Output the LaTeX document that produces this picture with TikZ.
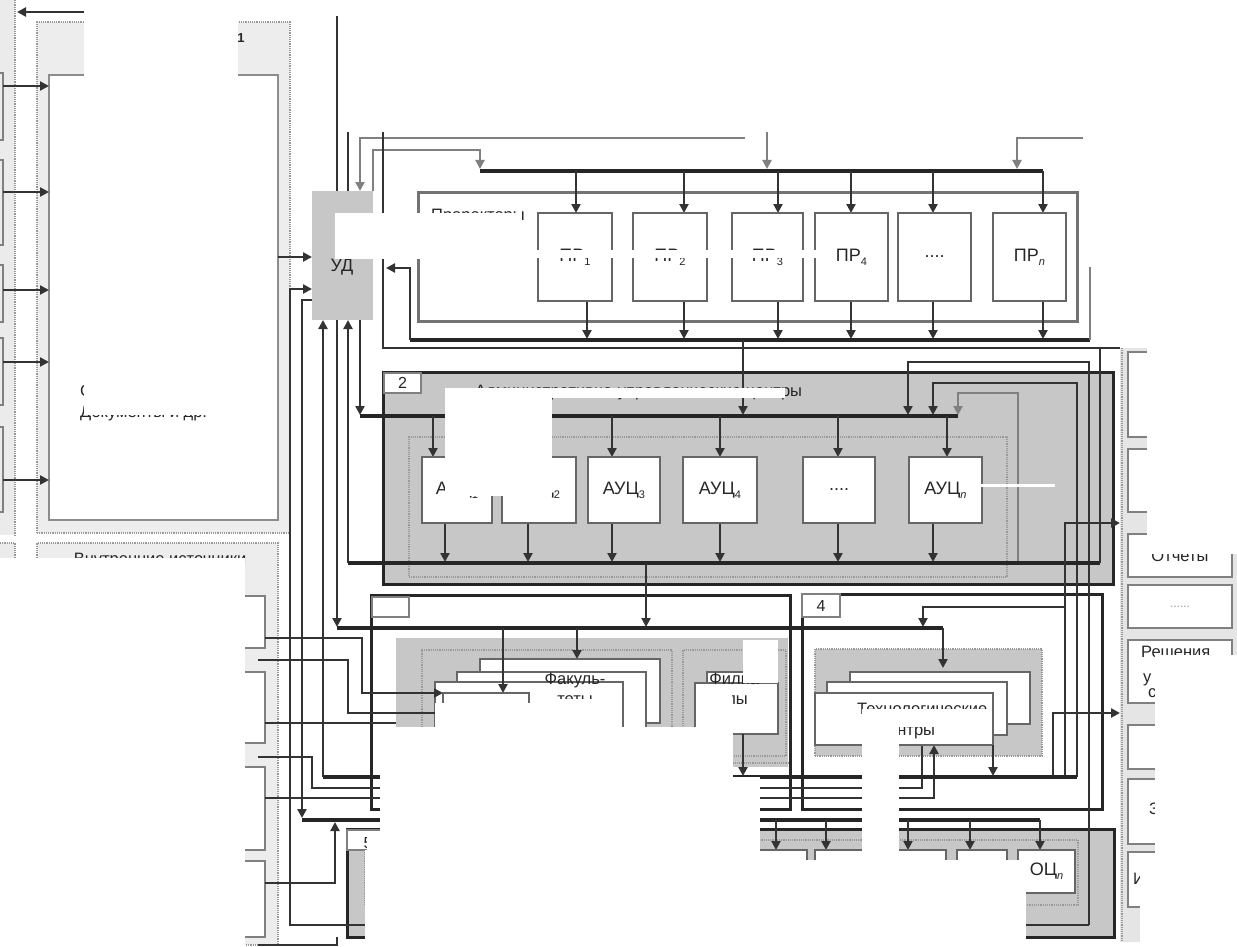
\documentclass[tikz,border=0pt]{standalone}
\usepackage{fontspec}
\setmainfont{Liberation Sans}
\usetikzlibrary{arrows.meta}
\newcommand\mybox[7]{\node[#6, anchor=north west, minimum width={(#4)-(#2)}, minimum height={(#5)-(#3)}, inner sep=0pt, outer sep=0pt] (#1) at (#2,#3) {#7};}
\newcommand\sbs[1]{\raisebox{-4pt}{\fontsize{11}{11}\selectfont #1}}
\begin{document}
\begin{tikzpicture}[x=1pt,y=-1pt,
  bus/.style={line width=3.5pt, draw=black!85},
  ln/.style={line width=2.4pt, draw=black!80},
  gln/.style={line width=2.2pt, draw=black!50},
  arr/.style={-{Triangle[length=9pt,width=9pt]}},
  box/.style={draw=black!60, line width=2.6pt, fill=white},
  pbox/.style={draw=black!50, line width=2.2pt, fill=white},
  frame/.style={draw=black!85, line width=3pt},
  dotb/.style={draw=black!40, line width=2pt, dash pattern=on 1.2pt off 1pt},
  lbl/.style={font=\fontsize{18}{20}\selectfont, text=black!85},
  ttl/.style={font=\fontsize{16.5}{20}\selectfont, text=black!85, inner sep=0pt},
  tag/.style={fill=white, draw=black!50, line width=1.5pt, font=\fontsize{16}{16}\selectfont, text=black!85},
  mask/.style={fill=white, draw=none},
]
\useasboundingbox (0,0) rectangle (1237,947);
\fill[white] (0,0) rectangle (1237,947);

% ---------------- left side ----------------
\fill[black!8] (0,0) rectangle (15,535);
\draw[dotb] (15,0) -- (15,535);
\fill[black!8] (0,543) rectangle (15,947);
\draw[dotb] (0,543) -- (15,543) -- (15,947);
\mybox{bA}{37}{22}{290}{533}{fill=black!7, dotb}{}
\mybox{bAin}{49}{75}{278}{520}{fill=white, draw=black!45, line width=1.8pt}{}
\node[font=\fontsize{13}{13}\selectfont\bfseries, text=black!85] (lab1) at (241,38) {1};
\node[ttl, anchor=base west] (txtC) at (80,396) {С};
\node[ttl, anchor=base west] (txtDoc) at (80,417) {Документы и др.};
\foreach \a/\b in {73/140,160/245,265/322,338/405,427/512}
  \draw[gln] (0,\a) -- (3,\a) -- (3,\b) -- (0,\b);
\foreach \y in {86,192,290,362,480}
  \draw[ln,arr] (3,\y) -- (49,\y);
\coordinate (topL) at (17,12);
\draw[ln,arr] (85,12) -- (topL);
\mybox{bB}{37}{543}{278}{945}{fill=black!7, dotb}{}
\node[ttl, anchor=base] (txtVI) at (160,564) {Внутренние источники};
\mybox{s1}{180}{596}{265}{648}{pbox}{}
\mybox{s2}{180}{672}{265}{743}{pbox}{}
\mybox{s3}{180}{767}{265}{850}{pbox}{}
\mybox{s4}{180}{861}{265}{937}{pbox}{}

% ---------------- right panel ----------------
\fill[black!10] (1120,348) rectangle (1237,942);
\draw[dotb] (1122,348) -- (1122,940);
\mybox{r0}{1128}{352}{1245}{437}{pbox}{}
\mybox{r1}{1128}{449}{1245}{512}{pbox}{}
\mybox{r2}{1128}{534}{1232}{577}{pbox, ttl}{Отчеты}
\mybox{r3}{1128}{585}{1232}{628}{pbox, font=\fontsize{12}{12}\selectfont, text=black!40}{......}
\mybox{r4}{1128}{640}{1232}{703}{pbox}{}
\mybox{r5}{1128}{725}{1245}{769}{pbox}{}
\mybox{r6}{1128}{779}{1245}{844}{pbox}{}
\mybox{r7}{1128}{852}{1245}{907}{pbox}{}
\node[ttl, anchor=base west] (txtR1) at (1141,657) {Решения};
\node[ttl, anchor=base west] (txtR2) at (1143,682) {у};
\node[ttl, anchor=base west] (txtR3) at (1148,697) {с};
\node[ttl, anchor=base west] (txtZ) at (1149,814) {З};
\node[ttl, anchor=base west] (txtI) at (1133,884) {И};

% ---------------- blocks ----------------
\mybox{prb}{418}{192}{1077}{321}{draw=black!55, line width=3pt, fill=white}{}
\mybox{b2}{383}{372}{1113}{584}{fill=black!22, frame}{}
\mybox{b2in}{409}{437}{1007}{577}{dotb}{}
\mybox{b3}{371}{595}{790}{809}{fill=white, frame}{}
\mybox{b3g}{396}{638}{788}{767}{fill=black!22, draw=none}{}
\draw[dotb] (396,763) -- (788,763);
\mybox{fg}{422}{650}{672}{756}{fill=black!22, dotb}{}
\mybox{flg}{683}{650}{786}{756}{fill=black!22, dotb}{}
\mybox{b4}{802}{594}{1102}{809}{fill=white, frame}{}
\mybox{b4g}{815}{649}{1042}{756}{fill=black!22, dotb}{}
\mybox{b5}{347}{829}{1114}{937}{fill=black!22, frame}{}
\mybox{b5in}{365}{840}{1078}{905}{dotb}{}
\mybox{ud}{312}{191}{373}{320}{fill=black!22, draw=none}{}

% ---------------- connectors ----------------
% around UD
\draw[ln] (337,16) -- (337,191);
\draw[ln] (348,132) -- (348,191);
\draw[gln,arr] (745,138) -- (360,138) -- (360,191);
\draw[gln,arr] (373,191) -- (373,150) -- (480,150) -- (480,169);
\draw[ln] (383,132) -- (383,348) -- (1120,348);
\draw[gln,arr] (767,132) -- (767,169);
\draw[gln,arr] (1083,138) -- (1017,138) -- (1017,169);
\draw[ln,arr] (278,257) -- (312,257);
\draw[ln,arr] (1089,925) -- (290,925) -- (290,289) -- (312,289);
\draw[ln,arr] (312,300) -- (302,300) -- (302,818);
% prorectors
\draw[bus] (480,171) -- (1043,171);
\foreach \x in {576,684,778,851,933,1043} \draw[ln,arr] (\x,171) -- (\x,213);
\foreach \x in {587,684,778,851,933,1043} \draw[ln,arr] (\x,301) -- (\x,339);
\draw[bus] (410,340) -- (1090,340);
\draw[ln,arr] (410,340) -- (410,268) -- (386,268);
\draw[gln] (1090,340) -- (1090,267);
\draw[ln,arr] (743,340) -- (743,415);
% AUC
\draw[ln,arr] (360,320) -- (360,415);
\draw[bus] (360,416) -- (958,416);
\draw[ln,arr] (1089,925) -- (1089,362) -- (908,362) -- (908,415);
\draw[ln,arr] (1077,777) -- (1077,383) -- (933,383) -- (933,415);
\draw[gln,arr] (1018,563) -- (1018,393) -- (958,393) -- (958,415);
\foreach \x in {433,528,612,720,838,947} \draw[ln,arr] (\x,416) -- (\x,457);
\foreach \x in {445,528,612,720,838,933} \draw[ln,arr] (\x,523) -- (\x,562);
\draw[bus] (348,563) -- (1100,563);
\draw[ln,arr] (348,563) -- (348,320);
\draw[ln] (1100,563) -- (1100,348);
\draw[ln,arr] (646,563) -- (646,627);
\draw[ln,arr] (1065,777) -- (1065,523) -- (1120,523);
\draw[ln,arr] (1065,607) -- (923,607) -- (923,627);
\draw[ln,arr] (1053,777) -- (1053,713) -- (1120,713);
% faculties / branches / tech
\draw[ln,arr] (337,320) -- (337,627);
\draw[bus] (337,628) -- (943,628);
\draw[ln,arr] (943,628) -- (943,668);
\draw[ln,arr] (577,628) -- (577,659);
\draw[ln] (265,723) -- (396,723);
\draw[ln] (922,745) -- (922,788) -- (312,788) -- (312,757) -- (258,757);
\draw[ln,arr] (265,798) -- (934,798) -- (934,745);
\draw[bus] (323,777) -- (1077,777);
\draw[ln,arr] (323,777) -- (323,320);
% OC
\draw[bus] (302,820) -- (1040,820);
\foreach \x in {776,826,908,970,1040} \draw[ln,arr] (\x,820) -- (\x,850);
\draw[ln,arr] (265,883) -- (335,883) -- (335,822);
\draw[ln] (258,945) -- (337,945) -- (337,937);

% ---------------- boxes ----------------
\mybox{pr1}{538}{213}{612}{301}{box, lbl}{ПР\sbs{1}}
\mybox{pr2}{633}{213}{707}{301}{box, lbl}{ПР\sbs{2}}
\mybox{pr3}{732}{213}{803}{301}{box, lbl}{ПР\sbs{3}}
\mybox{pr4}{815}{213}{888}{301}{box, lbl}{ПР\sbs{4}}
\mybox{pr5}{898}{213}{971}{301}{box, lbl}{....}
\mybox{prn}{993}{213}{1066}{301}{box, lbl}{ПР\sbs{\textit{n}}}
\mybox{a1}{422}{457}{492}{523}{box, lbl}{АУЦ\sbs{1}}
\mybox{a2}{502}{457}{576}{523}{box, lbl}{АУЦ\sbs{2}}
\mybox{a3}{588}{457}{660}{523}{box, lbl}{АУЦ\sbs{3}}
\mybox{a4}{683}{457}{757}{523}{box, lbl}{АУЦ\sbs{4}}
\mybox{a5}{803}{457}{875}{523}{box, lbl}{....}
\mybox{an}{909}{457}{982}{523}{box, lbl}{АУЦ\sbs{\textit{n}}}
\mybox{f3}{480}{659}{660}{723}{box}{}
\mybox{f2}{457}{672}{646}{735}{box}{}
\mybox{f1}{435}{682}{623}{745}{box}{}
\mybox{kf}{443}{693}{529}{760}{box}{}
\mybox{fl2}{707}{672}{775}{723}{box}{}
\mybox{fl1}{695}{683}{778}{734}{box}{}
\mybox{t3}{850}{672}{1030}{724}{box}{}
\mybox{t2}{827}{682}{1007}{735}{box}{}
\mybox{t1}{815}{693}{993}{745}{box}{}
\mybox{o1}{741}{850}{807}{893}{box}{}
\mybox{o2}{815}{850}{875}{893}{box}{}
\mybox{o3}{885}{850}{946}{893}{box}{}
\mybox{o4}{957}{850}{1007}{893}{box}{}
\mybox{on}{1018}{850}{1075}{893}{box, lbl}{ОЦ\sbs{\textit{n}}}
\mybox{tag2}{384}{373}{421}{393}{tag}{2}
\mybox{tag3}{372}{597}{409}{617}{tag}{}
\mybox{tag4}{802}{594}{840}{617}{tag}{4}
\mybox{tag5}{347}{830}{385}{850}{tag}{}
\node[font=\fontsize{16}{16}\selectfont, text=black!85, anchor=base] (lab5) at (368,848) {5};

% connectors drawn over the faculty stack
\draw[ln,arr] (503,628) -- (503,693);
\draw[ln,arr] (265,638) -- (362,638) -- (362,693) -- (443,693);
\draw[ln] (258,660) -- (348,660) -- (348,713) -- (443,713);
\draw[ln,arr] (743,734) -- (743,776);
\draw[ln,arr] (993,745) -- (993,776);

% ---------------- texts ----------------
\node[ttl, anchor=base west] (txtPR) at (431,220) {Проректоры};
\node[lbl, anchor=base] (txtUD) at (342,271) {УД};
\node[ttl, anchor=base west] (txtAUC) at (475,396) {Административно-управленческие центры};
\node[ttl, align=center, anchor=base] (txtFak) at (575,704) {Факуль-\\теты};
\node[ttl, align=center, anchor=base] (txtFil) at (737,704) {Филиа-\\лы};
\node[ttl, anchor=base west] (txtTech) at (857,714) {Технологические};
\node[ttl, anchor=base] (txtTech2) at (907,735) {центры};

% ---------------- blanked regions of the reference ----------------
\fill[mask] (84,0) rectangle (238,415);
\fill[mask] (335,213) rectangle (522,259);
\fill[mask] (522,250) rectangle (818,258);
\fill[mask] (0,558) rectangle (245,947);
\fill[mask] (445,388) rectangle (552,496);
\fill[mask] (552,388) rectangle (785,398);
\draw[white, line width=3pt] (980,485) -- (1055,485);
\fill[mask] (743,640) rectangle (778,683);
\fill[mask] (380,727) rectangle (733,947);
\fill[mask] (435,703) rectangle (560,727);
\fill[mask] (714,688) rectangle (732,727);
\fill[mask] (540,699) rectangle (620,716);
\fill[mask] (365,850) rectangle (380,947);
\fill[mask] (367,832) rectangle (380,850);
\fill[mask] (733,777) rectangle (760,947);
\fill[mask] (760,860) rectangle (862,947);
\fill[mask] (862,709) rectangle (992,727);
\fill[mask] (862,727) rectangle (899,947);
\fill[mask] (899,860) rectangle (1026,947);
\fill[mask] (1147,345) rectangle (1237,554);
\fill[mask] (1155,655) rectangle (1237,860);
\fill[mask] (1140,860) rectangle (1237,947);
\end{tikzpicture}
\end{document}
